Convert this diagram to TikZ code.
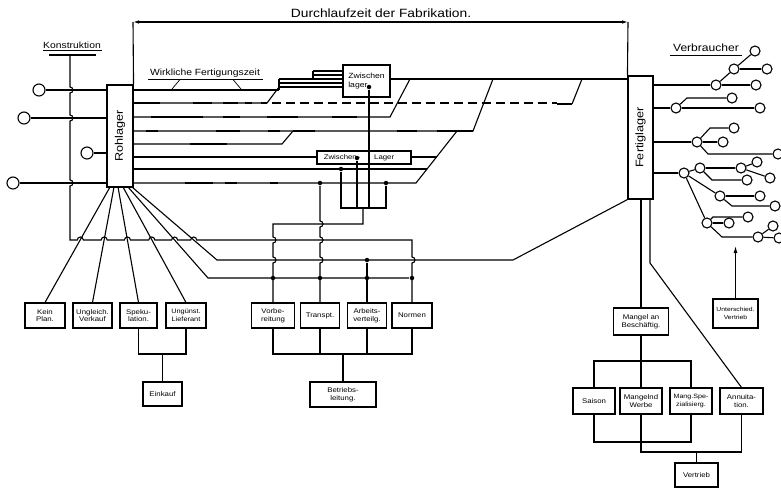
\documentclass[tikz,border=0pt]{standalone}
\usepackage{fontspec}
\setmainfont{Liberation Sans}[FakeStretch=1.15]
\usetikzlibrary{arrows.meta}
\begin{document}
\begin{tikzpicture}[x=1pt,y=-1pt,line width=1.1pt,
  thk/.style={line width=2.8pt},
  bx/.style={draw,line width=1.1pt,inner sep=0pt,align=center,font=\fontsize{6.8}{7.8}\selectfont},
  cirL/.style={circle,draw,fill=white,minimum size=12pt,inner sep=0pt,line width=1.1pt},
  cirR/.style={circle,draw,fill=white,minimum size=10pt,inner sep=0pt,line width=1.1pt},
  dt/.style={circle,fill,inner sep=0pt,minimum size=4.5pt},
  lbl/.style={inner sep=0pt,font=\fontsize{9}{10}\selectfont},
  tip/.style={-{Latex[length=7pt,width=4pt]}}]
\useasboundingbox (0,0) rectangle (781,488);

% ---------- main stores ----------
\node[bx,minimum width=26pt,minimum height=102pt] (Roh) at (120,136) {};
\node[rotate=90,font=\fontsize{11}{11}\selectfont] at (Roh) {Rohlager};
\node[bx,minimum width=25pt,minimum height=123pt] (Fert) at (640.5,137.5) {};
\node[rotate=90,font=\fontsize{11}{11}\selectfont] at (Fert) {Fertiglager};

% ---------- title arrow ----------
\coordinate (tL) at (133,22);
\coordinate (tR) at (628,22);
\draw (tL) -- (Roh.north east);
\draw (tR) -- (Fert.north west);
\draw[{Latex[length=6pt,width=3.5pt]}-{Latex[length=6pt,width=3.5pt]}] (tL) -- (tR);
\node[inner sep=0pt,font=\fontsize{12}{13}\selectfont] (title) at (381,13) {Durchlaufzeit der Fabrikation.};

% ---------- Konstruktion ----------
\node[lbl] (kon) at (72,45) {Konstruktion};
\draw[line width=0.7pt] (43,50.5) -- (102,50.5);
\draw[thk] (49,55) -- (96,55);
\node[cirL] (k1) at (39,90) {};
\node[cirL] (k2) at (24,118) {};
\node[cirL] (k3) at (87,153) {};
\node[cirL] (k4) at (13,183) {};
\draw (k1) -- (k1 -| Roh.west);
\draw (k2) -- (k2 -| Roh.west);
\draw (k3) -- (k3 -| Roh.west);
\draw (k4) -- (k4 -| Roh.west);

% ---------- bottom-left boxes ----------
\node[bx,minimum width=40pt,minimum height=25pt] (KP) at (45,315.5) {Kein\\Plan.};
\node[bx,minimum width=39pt,minimum height=25pt] (UV) at (92.5,315.5) {Ungleich.\\Verkauf};
\node[bx,minimum width=37pt,minimum height=25pt] (SP) at (138.5,315.5) {Speku-\\lation.};
\node[bx,minimum width=40pt,minimum height=25pt,font=\fontsize{6.4}{7.6}\selectfont] (UL) at (186,315.5) {Ungünst.\\Lieferant};
\node[bx,minimum width=39pt,minimum height=24pt] (EK) at (162.5,394) {Einkauf};
\coordinate (eJ) at (162.5,354);
\draw (SP.south) |- (eJ) -| (UL.south);
\draw (eJ) -- (EK.north);

% ---------- bottom-middle boxes ----------
\node[bx,minimum width=43pt,minimum height=25pt] (VB) at (273,315.5) {Vorbe-\\reitung};
\node[bx,minimum width=39pt,minimum height=25pt] (TR) at (320,315.5) {Transpt.};
\node[bx,minimum width=39pt,minimum height=25pt] (AV) at (367,315.5) {Arbeits-\\verteilg.};
\node[bx,minimum width=40pt,minimum height=25pt] (NO) at (412,315.5) {Normen};
\node[bx,minimum width=66pt,minimum height=25pt] (BL) at (343,394.5) {Betriebs-\\leitung.};
\coordinate (bJ) at (343,354);
\draw (VB.south) |- (bJ) -| (NO.south);
\draw (TR.south) -- (TR.south |- bJ);
\draw (AV.south) -- (AV.south |- bJ);
\draw (bJ) -- (BL.north);

% ---------- Konstruktion line with hops, to Normen ----------
\draw (70,55) -- (70,87) arc[start angle=-90,end angle=90,radius=3]
  -- (70,115) arc[start angle=-90,end angle=90,radius=3]
  -- (70,180) arc[start angle=-90,end angle=90,radius=3]
  -- (70,240) -- (77.3,240) arc[start angle=180,end angle=360,radius=3]
  -- (101.2,240) arc[start angle=180,end angle=360,radius=3]
  -- (124.4,240) arc[start angle=180,end angle=360,radius=3]
  -- (148.8,240) arc[start angle=180,end angle=360,radius=3]
  -- (171.6,240) arc[start angle=180,end angle=360,radius=3]
  -- (190.7,240) arc[start angle=180,end angle=360,radius=3]
  -- (412,240) -- (412,257) arc[start angle=-90,end angle=90,radius=3] -- (NO.north);

% ---------- fan from Rohlager ----------
\draw (110,187) -- (KP.north);
\draw (114,187) -- (UV.north);
\draw (118,187) -- (SP.north);
\draw (123,187) -- (UL.north);
\node[dt] (n278) at (412,278) {};
\draw (128,187) -- (208,278) -- (n278);
\draw (132,187) -- (217,260) -- (513,260) -- (Fert.south west);

% ---------- process lines ----------
% row 1
\draw (133,90) -- (279,90);
\draw[thk] (157,90) -- (211,90) (223,90) -- (257,90);
\draw (279,90) -- (279,79);
\draw[thk,line width=2.2pt] (279,79) -- (343,79) (279,83) -- (343,83) (279,87) -- (343,87);
\draw (313,79) -- (313,71);
\draw[thk,line width=2.2pt] (313,71) -- (343,71) (313,75) -- (343,75);
% Zwischenlager
\node[bx,minimum width=47pt,minimum height=32pt,font=\fontsize{7.5}{9.5}\selectfont,align=left] (Z1) at (366.5,81) {Zwischen\\lager\hphantom{n}};
\node[lbl] (wf) at (205,73) {Wirkliche Fertigungszeit};
\draw[line width=0.7pt] (148,79.5) -- (263,79.5);
\draw[line width=0.7pt] (180,79.5) -- (172,89) (233,79.5) -- (241,89);
% main line into Fertiglager
\draw (Z1.east |- 0,79) -- (Fert.west |- 0,79);
\draw[thk] (410,79) -- (448,79) (453,79) -- (483,79) (493,79) -- (508,79) (582,79) -- (610,79);
% row 2
\draw (133,103) -- (267,103) -- (279,87);
\draw[thk] (133,103) -- (160,103) (193,103) -- (212,103) (223,103) -- (238,103) (245,103) -- (252,103) (261,103) -- (267,103);
\draw[dash pattern=on 9pt off 5pt] (272,103) -- (557,103);
\draw[thk] (557,104) -- (572,104);
\draw (572,104) -- (582,79);
% row 3
\draw (133,117) -- (390,117) -- (410,79);
\draw[thk] (151,117) -- (203,117) (223,117) -- (240,117) (267,117) -- (298,117) (332,117) -- (357,117);
% row 4
\draw (133,131) -- (473,131) -- (493,79);
\draw[thk] (146,131) -- (158,131) (216,131) -- (240,131) (268,131) -- (280,131) (293,131) -- (315,131) (397,131) -- (417,131) (437,131) -- (473,131);
% row 5
\draw (133,144) -- (282,144) -- (293,131);
\draw[thk] (190,144) -- (227,144);
% Zwischen-Lager
\node[bx,minimum width=94pt,minimum height=13pt,font=\fontsize{6.8}{7}\selectfont] (Z2) at (364,157.5) {Zwischen\,-\qquad Lager\hspace{10pt}};
% row 6
\draw (133,157) -- (Z2.west |- 0,157);
\draw (Z2.east |- 0,157) -- (436.5,157);
\draw[thk] (152,157) -- (192,157) (297,157) -- (305,157);
% row 7
\draw (133,169) -- (427,169);
\draw[thk] (133,169) -- (172,169);
% row 8
\draw (133,183) -- (416,183) -- (457,131);
\draw[thk] (185,183) -- (213,183) (225,183) -- (237,183) (270,183) -- (278,183);

% ---------- collectors ----------
\node[dt] (z1d) at (369,87) {};
\node[dt] (z2d) at (357,158) {};
\node[dt] (r7d) at (341,169) {};
\node[dt] (r8a) at (320,183) {};
\node[dt] (r8b) at (386,183) {};
\coordinate (jA) at (363,208);
\draw (r7d) -- (341,208) -- (386,208) -- (r8b);
\draw (z2d) -- (357,208);
\draw (z1d) -- (369,208);
\draw (jA) -- (363,224) -- (273,224) -- (273,237) arc[start angle=-90,end angle=90,radius=3]
  -- (273,257) arc[start angle=-90,end angle=90,radius=3] -- (VB.north);
\draw (r8a) -- (320,221) arc[start angle=-90,end angle=90,radius=3]
  -- (320,237) arc[start angle=-90,end angle=90,radius=3]
  -- (320,257) arc[start angle=-90,end angle=90,radius=3] -- (TR.north);
\node[dt] (a260) at (367,260) {};
\draw (a260) -- (AV.north);
\node[dt] at (273,278) {};
\node[dt] at (320,278) {};
\node[dt] at (367,278) {};

% ---------- bottom-right boxes ----------
\node[bx,minimum width=55pt,minimum height=27pt] (MB) at (641,321.5) {Mangel an\\Beschäftig.};
\node[bx,minimum width=42pt,minimum height=26pt] (SA) at (594,401) {Saison};
\node[bx,minimum width=42pt,minimum height=26pt] (MW) at (641,401) {Mangelnd\\Werbe};
\node[bx,minimum width=42pt,minimum height=26pt,font=\fontsize{6.2}{7.6}\selectfont] (MS) at (691,401) {Mang.Spe-\\zialisierg.};
\node[bx,minimum width=43pt,minimum height=26pt] (AN) at (741.5,401) {Annuita-\\tion.};
\node[bx,minimum width=43pt,minimum height=24pt] (VT) at (696.5,475) {Vertrieb};
\node[bx,minimum width=45pt,minimum height=29pt,font=\fontsize{5.9}{7.5}\selectfont] (UT) at (735.5,313.5) {Unterschied.\\Vertrieb};
\draw (Fert.south -| MB.north) -- (MB.north);
\coordinate (fk) at (650,263);
\draw (Fert.south -| fk) -- (fk) -- (AN.north);
\coordinate (mJ) at (641,361);
\draw (MB.south) -- (mJ);
\draw (SA.north) |- (mJ) -| (MS.north);
\draw (mJ) -- (MW.north);
\coordinate (sJ) at (641,442);
\draw (SA.south) |- (sJ) -| (MS.south);
\coordinate (vJ) at (696.5,452);
\draw (MW.south) |- (vJ) -| (AN.south);
\draw (vJ) -- (VT.north);
\coordinate (uA) at (735.5,246);
\draw[tip] (UT.north) -- (uA);

% ---------- Verbraucher tree ----------
\node[lbl,font=\fontsize{10.5}{11}\selectfont] (vb) at (706,48) {Verbraucher};
\draw[line width=0.7pt] (670,55) -- (742,55);
\node[cirR] (v0) at (755,51) {};
\node[cirR] (a0) at (716,85) {};
\node[cirR] (a1) at (756,85) {};
\node[cirR] (a2) at (734,69) {};
\node[cirR] (a3) at (767,69) {};
\draw (Fert.east |- a0) -- (a0);
\draw (a0) -- (a1); \draw (a0) -- (a2); \draw (a2) -- (a3); \draw (a2) -- (v0);
\node[cirR] (b0) at (676,108) {};
\node[cirR] (b1) at (760,108) {};
\node[cirR] (b2) at (732,98) {};
\draw (Fert.east |- b0) -- (b0);
\draw (b0) -- (b1); \draw (b0) -- (687,98) -- (b2);
\node[cirR] (c0) at (697,142) {};
\node[cirR] (c1) at (723,142) {};
\node[cirR] (c2) at (734,128) {};
\node[cirR] (c3) at (778,154) {};
\draw (Fert.east |- c0) -- (c0);
\draw (c0) -- (c1); \draw (c0) -- (710,128) -- (c2); \draw (c0) -- (708,154) -- (c3);
\node[cirR] (d0) at (684,173) {};
\node[cirR] (d1) at (700,168) {};
\node[cirR] (d2) at (741,168) {};
\node[cirR] (d3) at (757,162) {};
\node[cirR] (d4) at (770,178) {};
\node[cirR] (d5) at (747,180) {};
\node[cirR] (d6) at (720,196) {};
\node[cirR] (d7) at (760,196) {};
\node[cirR] (d8) at (775,206) {};
\node[cirR] (d9) at (707,223) {};
\node[cirR] (d10) at (748,217) {};
\node[cirR] (d11) at (729,223) {};
\node[cirR] (d12) at (758,237) {};
\node[cirR] (d13) at (773,226) {};
\node[cirR] (d14) at (779,238) {};
\draw (Fert.east |- d0) -- (d0);
\draw (d0) -- (d1); \draw (d1) -- (d2); \draw (d2) -- (d3); \draw (d2) -- (d4);
\draw (d1) -- (712,180) -- (d5);
\draw (d0) -- (d6); \draw (d6) -- (d7); \draw (d6) -- (732,206) -- (d8);
\draw (d0) -- (d9); \draw (d9) -- (713,217) -- (d10); \draw (d9) -- (d11);
\draw (d9) -- (722,237) -- (d12); \draw (d12) -- (d13); \draw (d12) -- (d14);
\end{tikzpicture}
\end{document}
